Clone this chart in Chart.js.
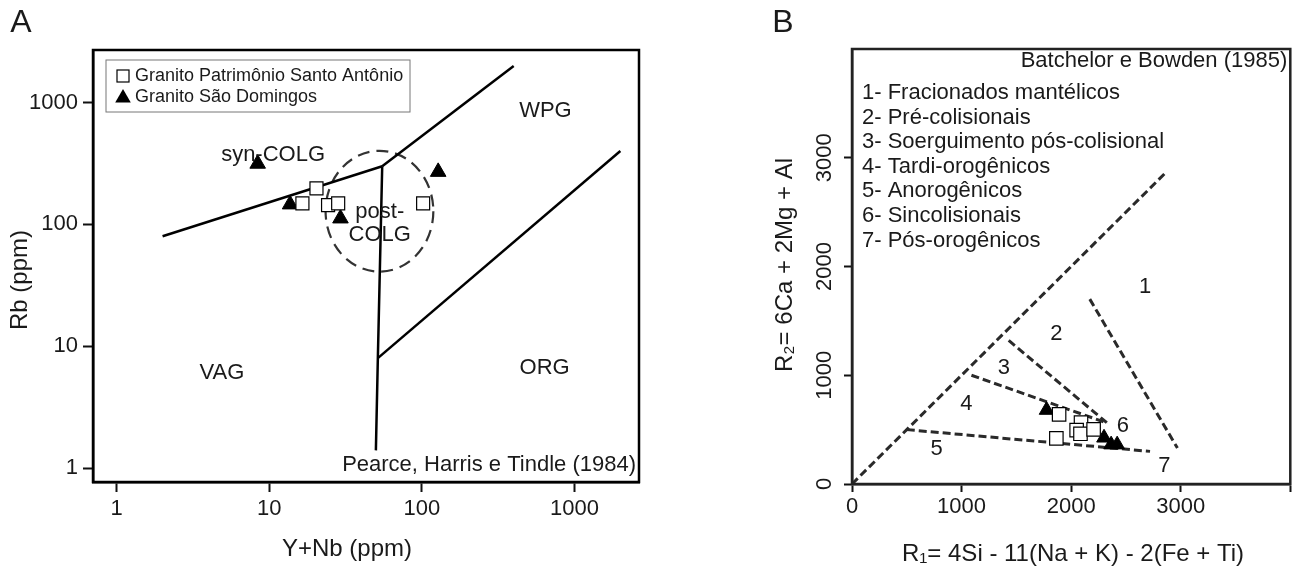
<!DOCTYPE html>
<html>
<head>
<meta charset="utf-8">
<script src="https://cdn.jsdelivr.net/npm/chart.js@4"></script>
<style>
  body { margin: 0; background: #fff; }
  #wrap { position: relative; width: 1301px; height: 569px; }
  canvas { position: absolute; top: 0; }
</style>
</head>
<body>
<div id="wrap">
  <canvas id="chartA" width="650" height="569" style="left:0"></canvas>
  <canvas id="chartB" width="651" height="569" style="left:650px"></canvas>
</div>
<script>
// ---- panel A : Pearce, Harris e Tindle (1984), Rb vs Y+Nb ----
const santoAntonioA = [
  { x: 20.4, y: 198 }, { x: 16.5, y: 149 }, { x: 24.3, y: 144 },
  { x: 28.3, y: 149 }, { x: 102, y: 149 }
];
const saoDomingosA = [
  { x: 8.4, y: 315 }, { x: 13.7, y: 146 }, { x: 29.3, y: 112 }, { x: 128, y: 270 }
];
const synColgLine = [{ x: 2, y: 80 }, { x: 55, y: 300 }];
const wpgLine = [{ x: 55, y: 300 }, { x: 400, y: 2000 }];
const vagLine = [{ x: 55, y: 300 }, { x: 51.5, y: 8 }, { x: 50, y: 1.4 }];
const orgLine = [{ x: 51.5, y: 8 }, { x: 2000, y: 400 }];
const postColgX = [23.4, 119];
const postColgY = [41, 402];
const xTicksA = [1, 10, 100, 1000];
const yTicksA = [1, 10, 100, 1000];
const regionLabelsA = [
  { text: 'syn-COLG', x: 10.6, y: 371 },
  { text: 'post-', x: 53, y: 127 },
  { text: 'COLG', x: 53, y: 82 },
  { text: 'WPG', x: 646, y: 853 },
  { text: 'VAG', x: 4.9, y: 6.0 },
  { text: 'ORG', x: 638, y: 6.7 }
];

// ---- panel B : Batchelor e Bowden (1985), R1-R2 ----
const santoAntonioB = [
  { x: 1890, y: 640 }, { x: 2090, y: 565 }, { x: 2050, y: 495 },
  { x: 2085, y: 462 }, { x: 2205, y: 502 }, { x: 1865, y: 420 }
];
const saoDomingosB = [
  { x: 1776, y: 680 }, { x: 2300, y: 425 }, { x: 2365, y: 362 }, { x: 2420, y: 362 }
];
const diagLine = [{ x: 0, y: 0 }, { x: 2860, y: 2860 }];
const line1 = [{ x: 2170, y: 1700 }, { x: 2970, y: 330 }];
const line2 = [{ x: 1430, y: 1320 }, { x: 2330, y: 560 }];
const line3 = [{ x: 1090, y: 1000 }, { x: 2330, y: 560 }];
const line5 = [{ x: 500, y: 500 }, { x: 2720, y: 300 }];
const xTicksB = [0, 1000, 2000, 3000, 4000];
const yTicksB = [0, 1000, 2000, 3000];
const fieldNumbersB = [
  { text: '1', x: 2676, y: 1810 }, { text: '2', x: 1866, y: 1379 },
  { text: '3', x: 1387, y: 1066 }, { text: '4', x: 1044, y: 740 },
  { text: '5', x: 773, y: 320 }, { text: '6', x: 2473, y: 531 },
  { text: '7', x: 2850, y: 168 }
];
const fieldNamesB = [
  '1- Fracionados mantélicos',
  '2- Pré-colisionais',
  '3- Soerguimento pós-colisional',
  '4- Tardi-orogênicos',
  '5- Anorogênicos',
  '6- Sincolisionais',
  '7- Pós-orogênicos'
];

const FONT = "'Liberation Sans', Arial, sans-serif";
Chart.defaults.font.family = FONT;
Chart.defaults.color = '#1a1a1a';

const tickGrid = (len) => ({
  drawOnChartArea: false, drawTicks: true, tickLength: len, tickWidth: 2, tickColor: '#111'
});

const lineSet = (data, dashed) => ({
  type: 'line', data: data, borderColor: dashed ? '#2a2a2a' : '#000',
  borderWidth: dashed ? 3 : 2.5, borderDash: dashed ? [8, 4] : [],
  pointRadius: 0, fill: false, tension: 0, order: 2
});

const drawSquare = (ctx, x, y, s) => {
  ctx.fillStyle = '#fff';
  ctx.strokeStyle = '#000';
  ctx.lineWidth = 1.2;
  ctx.fillRect(x - s / 2, y - s / 2, s, s);
  ctx.strokeRect(x - s / 2, y - s / 2, s, s);
};

const drawTriangle = (ctx, x, y, r) => {
  ctx.fillStyle = '#000';
  ctx.beginPath();
  ctx.moveTo(x, y - r);
  ctx.lineTo(x + r * 0.866, y + r / 2);
  ctx.lineTo(x - r * 0.866, y + r / 2);
  ctx.closePath();
  ctx.fill();
};

const text = (ctx, str, x, y, size, align, rot) => {
  ctx.save();
  ctx.font = size + 'px ' + FONT;
  ctx.fillStyle = '#1a1a1a';
  ctx.textAlign = align || 'center';
  ctx.textBaseline = 'middle';
  ctx.translate(x, y);
  if (rot) ctx.rotate(rot);
  ctx.fillText(str, 0, 0);
  ctx.restore();
};

const panelA = {
  id: 'panelA',
  beforeDatasetsDraw(chart) {
    const { ctx, scales: { x, y } } = chart;
    const x0 = x.getPixelForValue(postColgX[0]), x1 = x.getPixelForValue(postColgX[1]);
    const y0 = y.getPixelForValue(postColgY[0]), y1 = y.getPixelForValue(postColgY[1]);
    ctx.save();
    ctx.strokeStyle = '#333';
    ctx.lineWidth = 2.2;
    ctx.setLineDash([12, 7]);
    ctx.beginPath();
    ctx.ellipse((x0 + x1) / 2, (y0 + y1) / 2, Math.abs(x1 - x0) / 2, Math.abs(y1 - y0) / 2, 0, 0, Math.PI * 2);
    ctx.stroke();
    ctx.restore();
  },
  afterDraw(chart) {
    const { ctx, chartArea: a, scales: { x, y } } = chart;
    regionLabelsA.forEach((l) => {
      text(ctx, l.text, x.getPixelForValue(l.x), y.getPixelForValue(l.y), 22);
    });
    text(ctx, 'Pearce, Harris e Tindle (1984)', a.right - 3, a.bottom - 17, 22, 'right');
    // legend box
    ctx.save();
    ctx.strokeStyle = '#777';
    ctx.lineWidth = 1;
    ctx.strokeRect(a.left + 13, a.top + 10, 304, 52);
    ctx.restore();
    drawSquare(ctx, a.left + 30, a.top + 26, 12);
    drawTriangle(ctx, a.left + 30, a.top + 48, 9);
    text(ctx, chart.data.datasets[0].label, a.left + 42, a.top + 26, 18, 'left');
    text(ctx, chart.data.datasets[1].label, a.left + 42, a.top + 47, 18, 'left');
    // frame
    ctx.save();
    ctx.strokeStyle = '#000';
    ctx.lineWidth = 2.5;
    ctx.strokeRect(a.left, a.top, a.right - a.left, a.bottom - a.top);
    ctx.restore();
    text(ctx, 'Y+Nb (ppm)', 347, 549, 24);
    text(ctx, 'Rb (ppm)', 20, 280, 24, 'center', -Math.PI / 2);
    text(ctx, 'A', 21, 23, 32);
  }
};

const panelB = {
  id: 'panelB',
  afterDraw(chart) {
    const { ctx, chartArea: a, scales: { x, y } } = chart;
    fieldNumbersB.forEach((l) => {
      text(ctx, l.text, x.getPixelForValue(l.x), y.getPixelForValue(l.y), 22);
    });
    text(ctx, 'Batchelor e Bowden (1985)', a.right - 3, a.top + 12, 22, 'right');
    fieldNamesB.forEach((n, i) => {
      text(ctx, n, a.left + 10, a.top + 44 + i * 24.6, 22, 'left');
    });
    ctx.save();
    ctx.strokeStyle = '#222';
    ctx.lineWidth = 2.5;
    ctx.strokeRect(a.left, a.top, a.right - a.left, a.bottom - a.top);
    ctx.restore();
    text(ctx, 'R\u2081= 4Si - 11(Na + K) - 2(Fe + Ti)', 423, 554, 24);
    text(ctx, 'R\u2082= 6Ca + 2Mg + Al', 135, 265, 24, 'center', -Math.PI / 2);
    text(ctx, 'B', 133, 23, 32);
  }
};

new Chart(document.getElementById('chartA'), {
  type: 'scatter',
  data: {
    datasets: [
      { label: 'Granito Patrimônio Santo Antônio', data: santoAntonioA, pointStyle: 'rect',
        pointRadius: 9.2, backgroundColor: '#fff', borderColor: '#000', borderWidth: 1.2, order: 0 },
      { label: 'Granito São Domingos', data: saoDomingosA, pointStyle: 'triangle',
        pointRadius: 9, backgroundColor: '#000', borderColor: '#000', borderWidth: 1, order: 1 },
      lineSet(synColgLine), lineSet(wpgLine), lineSet(vagLine), lineSet(orgLine)
    ]
  },
  options: {
    responsive: false,
    animation: false,
    layout: { padding: { left: 0, right: 11, top: 50, bottom: 0 } },
    plugins: { legend: { display: false }, tooltip: { enabled: false } },
    scales: {
      x: {
        type: 'logarithmic', min: 0.73, max: 2650,
        afterBuildTicks: (s) => { s.ticks = xTicksA.map((v) => ({ value: v })); },
        afterFit: (s) => { s.height = 87; },
        ticks: { callback: (v) => String(v), font: { size: 22 }, padding: 4, maxRotation: 0, autoSkip: false },
        grid: tickGrid(10),
        border: { display: true, width: 2.5, color: '#000' }
      },
      y: {
        type: 'logarithmic', min: 0.77, max: 2700,
        afterBuildTicks: (s) => { s.ticks = yTicksA.map((v) => ({ value: v })); },
        afterFit: (s) => { s.width = 93; },
        ticks: { callback: (v) => String(v), font: { size: 22 }, padding: 5, autoSkip: false },
        grid: tickGrid(10),
        border: { display: true, width: 2.5, color: '#000' }
      }
    }
  },
  plugins: [panelA]
});

new Chart(document.getElementById('chartB'), {
  type: 'scatter',
  data: {
    datasets: [
      { label: 'Granito Patrimônio Santo Antônio', data: santoAntonioB, pointStyle: 'rect',
        pointRadius: 9.5, backgroundColor: '#fff', borderColor: '#000', borderWidth: 1.2, order: 0 },
      { label: 'Granito São Domingos', data: saoDomingosB, pointStyle: 'triangle',
        pointRadius: 8.5, backgroundColor: '#000', borderColor: '#000', borderWidth: 1, order: 1 },
      lineSet(diagLine, true), lineSet(line1, true), lineSet(line2, true),
      lineSet(line3, true), lineSet(line5, true)
    ]
  },
  options: {
    responsive: false,
    animation: false,
    layout: { padding: { left: 110, right: 8.5, top: 49, bottom: 0 } },
    plugins: { legend: { display: false }, tooltip: { enabled: false } },
    scales: {
      x: {
        type: 'linear', min: 0, max: 4000,
        afterBuildTicks: (s) => { s.ticks = xTicksB.map((v) => ({ value: v })); },
        afterFit: (s) => { s.height = 85; },
        ticks: { callback: (v) => (v === 4000 ? '' : String(v)), font: { size: 22 }, padding: 2, maxRotation: 0, autoSkip: false },
        grid: tickGrid(8),
        border: { display: true, width: 2.5, color: '#222' }
      },
      y: {
        type: 'linear', min: 0, max: 4000,
        afterBuildTicks: (s) => { s.ticks = yTicksB.map((v) => ({ value: v })); },
        afterFit: (s) => { s.width = 92; },
        ticks: { callback: (v) => String(v), font: { size: 22 }, padding: -5, minRotation: 90, maxRotation: 90, crossAlign: 'center', autoSkip: false },
        grid: tickGrid(8),
        border: { display: true, width: 2.5, color: '#222' }
      }
    }
  },
  plugins: [panelB]
});
</script>
</body>
</html>
